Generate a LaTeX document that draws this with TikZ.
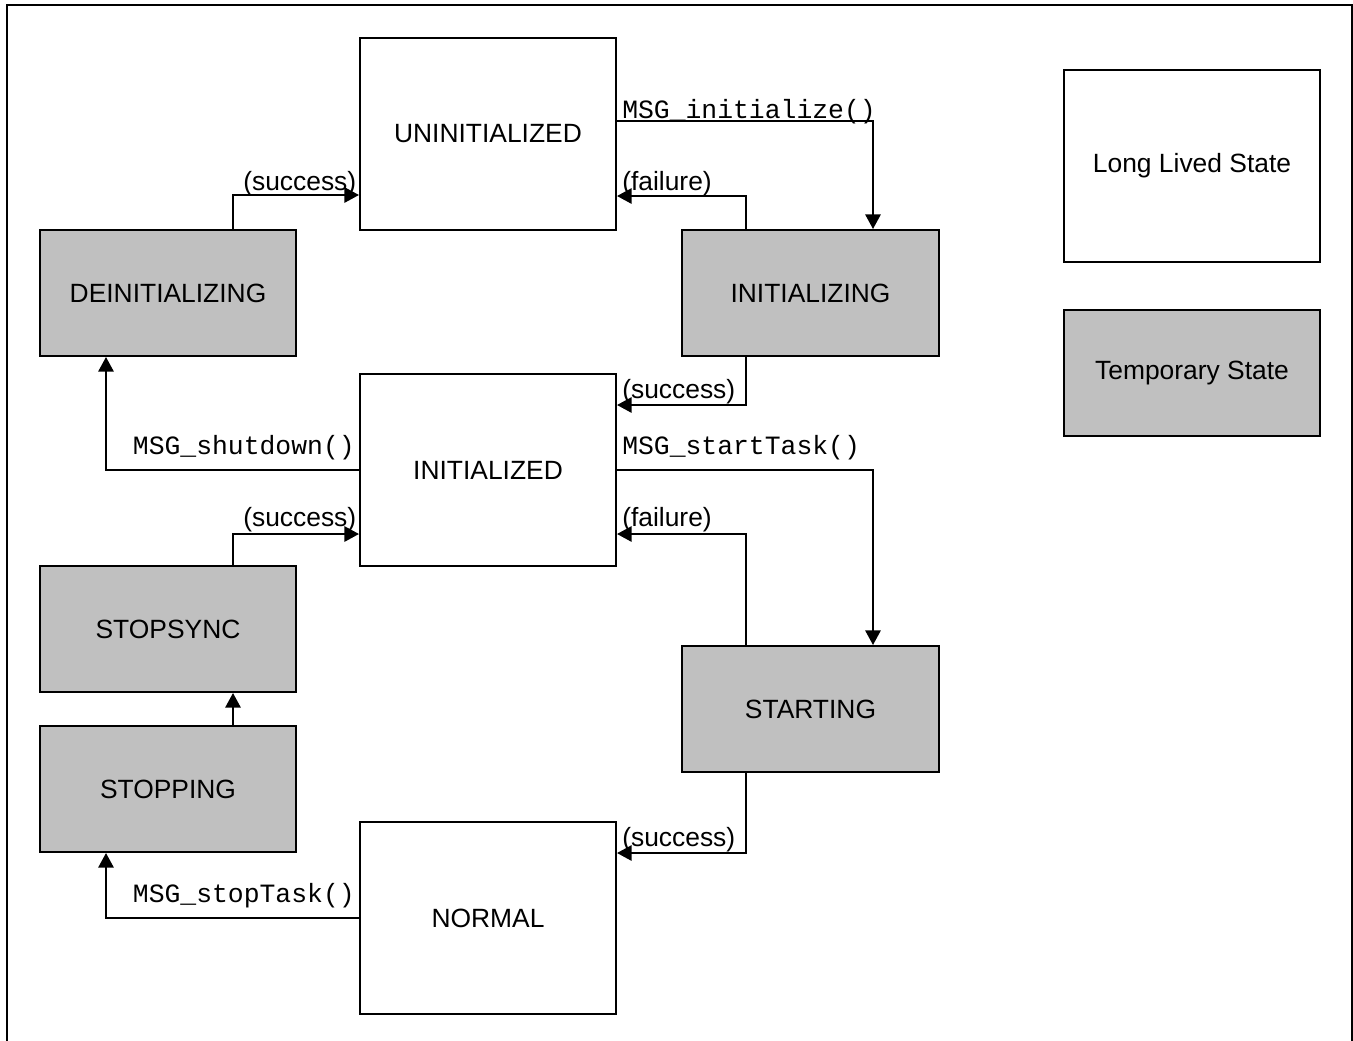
\documentclass[tikz,border=0pt]{standalone}
\usepackage{fontspec}
\setmainfont{Liberation Sans}
\setmonofont{Liberation Mono}
\usetikzlibrary{arrows.meta}
\begin{document}
\begin{tikzpicture}[x=0.75pt,y=-0.75pt,
  lstate/.style={draw=black, line width=1.5pt, fill=white, rectangle, inner sep=0pt,
    minimum width=192pt, minimum height=144pt, font=\fontsize{19.8}{24}\selectfont},
  tstate/.style={lstate, fill=gray75, minimum height=94.5pt},
  conn/.style={draw=black, line width=1.5pt, -{Triangle[length=11pt,width=11.5pt]}},
  lab/.style={inner sep=0pt, font=\fontsize{19.8}{24}\selectfont},
  mlab/.style={inner sep=0pt, font=\fontsize{19.8}{24}\selectfont\ttfamily}]
\definecolor{gray75}{RGB}{192,192,192}
\useasboundingbox (0,0) rectangle (1353,1040);
\draw[line width=1.5pt] (7,1060) -- (7,5) -- (1352,5) -- (1352,1060);
% states
\node[lstate] (uninit) at (488,134) {UNINITIALIZED};
\node[tstate, minimum width=192.75pt] (initing) at (810.5,293) {INITIALIZING};
\node[tstate] (deinit) at (168,293) {DEINITIALIZING};
\node[lstate] (inited) at (488,470) {INITIALIZED};
\node[tstate] (stopsync) at (168,629) {STOPSYNC};
\node[tstate] (stopping) at (168,789) {STOPPING};
\node[tstate, minimum width=192.75pt] (starting) at (810.5,709) {STARTING};
\node[lstate] (normal) at (488,918) {NORMAL};
\node[lstate] (legendL) at (1192,166) {Long Lived State};
\node[tstate] (legendT) at (1192,373) {Temporary State};
% connectors
\draw[conn] (uninit.east |- 0,121) -| (873,0 |- initing.north);
\draw[conn] (746,0 |- initing.north) |- (uninit.east |- 0,196);
\draw[conn] (233,0 |- deinit.north) |- (uninit.west |- 0,195);
\draw[conn] (746,0 |- initing.south) |- (inited.east |- 0,405);
\draw[conn] (inited.west) -| (106,0 |- deinit.south);
\draw[conn] (inited.east) -| (873,0 |- starting.north);
\draw[conn] (746,0 |- starting.north) |- (inited.east |- 0,534);
\draw[conn] (233,0 |- stopsync.north) |- (inited.west |- 0,534);
\draw[conn] (233,0 |- stopping.north) -- (233,0 |- stopsync.south);
\draw[conn] (746,0 |- starting.south) |- (normal.east |- 0,853);
\draw[conn] (normal.west) -| (106,0 |- stopping.south);
% labels
\node[mlab, anchor=base west] (l1) at (622,118) {MSG\_initialize()};
\node[lab, anchor=base west] (l2) at (622,190) {(failure)};
\node[lab, anchor=base west] (l3) at (243,190) {(success)};
\node[lab, anchor=base west] (l4) at (622,398) {(success)};
\node[mlab, anchor=base east] (l5) at (355,454) {MSG\_shutdown()};
\node[mlab, anchor=base west] (l6) at (622,454) {MSG\_startTask()};
\node[lab, anchor=base west] (l7) at (622,526) {(failure)};
\node[lab, anchor=base west] (l8) at (243,526) {(success)};
\node[lab, anchor=base west] (l9) at (622,846) {(success)};
\node[mlab, anchor=base east] (l10) at (355,902) {MSG\_stopTask()};
\end{tikzpicture}
\end{document}
